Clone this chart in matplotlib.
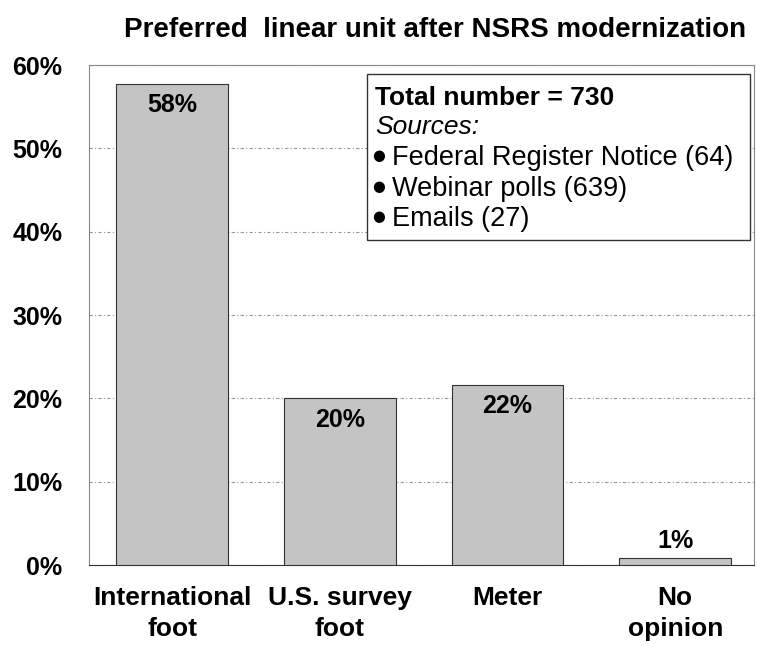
import matplotlib.pyplot as plt
from matplotlib.ticker import PercentFormatter

categories = ['International\nfoot', 'U.S. survey\nfoot', 'Meter', 'No\nopinion']
shares = [57.7, 20.0, 21.6, 0.9]
share_labels = ['58%', '20%', '22%', '1%']
y_ticks = [0, 10, 20, 30, 40, 50, 60]
box_title = 'Total number = 730'
box_sub = 'Sources:'
box_items = ['Federal Register Notice (64)', 'Webinar polls (639)', 'Emails (27)']

plt.rcParams['font.family'] = ['Liberation Sans', 'DejaVu Sans']

fig = plt.figure(figsize=(7.57, 6.45), dpi=100)
ax = fig.add_axes([0.117, 0.124, 0.879, 0.775])

x = range(len(categories))
ax.bar(x, shares, width=0.667, color='#c4c4c4', edgecolor='#333333', linewidth=0.8, zorder=3)

for i, (v, lab) in enumerate(zip(shares, share_labels)):
    if v > 5:
        ax.text(i, v - 1.1, lab, ha='center', va='top', fontsize=18, fontweight='bold', zorder=4)
    else:
        ax.text(i, v + 0.6, lab, ha='center', va='bottom', fontsize=18, fontweight='bold', zorder=4)

ax.set_xlim(-0.5, 3.47)
ax.set_ylim(0, 60)
ax.set_yticks(y_ticks)
ax.yaxis.set_major_formatter(PercentFormatter(decimals=0))
ax.set_xticks(list(x))
ax.set_xticklabels(categories, fontsize=19, fontweight='bold', linespacing=1.4)
for t in ax.get_yticklabels():
    t.set_fontsize(18)
    t.set_fontweight('bold')
ax.tick_params(axis='y', length=0, pad=19)
ax.tick_params(axis='x', length=0, pad=15)

ax.grid(axis='y', color='#999999', linestyle=(0, (3, 2, 1, 2)), linewidth=0.8, zorder=0)
for s in ax.spines.values():
    s.set_color('#888888')
    s.set_linewidth(0.8)
ax.spines['bottom'].set_color('#333333')

fig.text(0.575, 0.953, 'Preferred  linear unit after NSRS modernization', ha='center', va='center',
         fontsize=20, fontweight='bold')

# info box
bx0, by0, bx1, by1 = 367 / 757, 1 - 240 / 645, 750 / 757, 1 - 74 / 645
fig.patches.append(plt.Rectangle((bx0, by0), bx1 - bx0, by1 - by0, transform=fig.transFigure,
                                 facecolor='white', edgecolor='#333333', linewidth=1.0, zorder=5))
tx = 375 / 757
fig.text(tx, 1 - 98 / 645, box_title, fontsize=19, fontweight='bold', va='center', zorder=6)
fig.text(tx, 1 - 127 / 645, box_sub, fontsize=19, style='italic', va='center', zorder=6)
for k, item in enumerate(box_items):
    yy = 1 - (158 + k * 30.5) / 645
    fig.text(372 / 757, yy + 2 / 645, '\u25cf', fontsize=10.5, va='center', family='DejaVu Sans', zorder=6)
    fig.text(392 / 757, yy, item, fontsize=19.5, va='center', zorder=6)

fig.savefig('out.png', dpi=100)
